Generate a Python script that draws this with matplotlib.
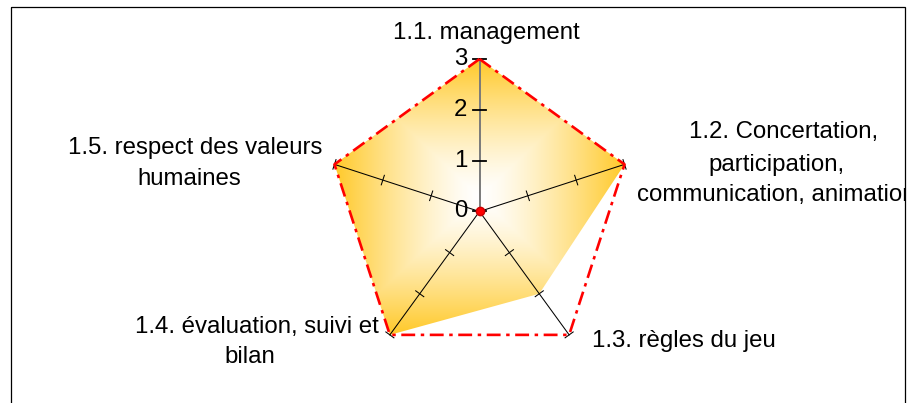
import numpy as np
import matplotlib
matplotlib.use("Agg")
import matplotlib.pyplot as plt
from matplotlib.patches import Polygon, Rectangle
from matplotlib.transforms import Affine2D, Bbox

# ---------------- data ----------------
categories = ["1.1. management",
              "1.2. Concertation,\nparticipation,\ncommunication, animation",
              "1.3. règles du jeu",
              "1.4. évaluation, suivi et\nbilan",
              "1.5. respect des valeurs\nhumaines"]
actual = [3, 3, 2, 3, 3]
target = [3, 3, 3, 3, 3]
tick_values = [0, 1, 2, 3]
tick_labels = ["0", "1", "2", "3"]
vmax = 3

# ---------------- layout / style ----------------
W, H, DPI = 919, 403, 100
plt.rcParams['font.family'] = ['Liberation Sans', 'DejaVu Sans']
plt.rcParams['lines.scale_dashes'] = False
FS = 17.3
fig = plt.figure(figsize=(W / DPI, H / DPI), dpi=DPI)
fig.patch.set_facecolor('white')
ax = fig.add_axes([0, 0, 1, 1])
ax.axis('off')

CX, CY, R = 479.5, 211.5, 152.5          # pixel centre and radius of value vmax
S = R / vmax                              # pixels per unit
px = Affine2D().scale(1, -1).translate(0, H)   # image pixels -> display

n = len(categories)
ang = np.deg2rad(90 - 360.0 / n * np.arange(n))
ux, uy = np.cos(ang), np.sin(ang)

# gradient fill of the actual series
a = np.asarray(actual, float)
xs, ys = a * ux, a * uy
xmin, xmax, ymin, ymax = xs.min(), xs.max(), ys.min(), ys.max()
gx = np.linspace(xmin, xmax, 500)
gy = np.linspace(ymin, ymax, 500)
GX, GY = np.meshgrid(gx, gy)
cx0, cy0 = (xmin + xmax) / 2, (ymin + ymax) / 2
t = np.maximum(np.abs(GX - cx0) / ((xmax - xmin) / 2),
               np.abs(GY - cy0) / ((ymax - ymin) / 2))
t = np.clip(t, 0, 1) ** 1.35
t = t[..., None]
white = np.array([1.0, 1.0, 1.0])
gold = np.array([255, 201, 40]) / 255.0
img = white * (1 - t) + gold * t
im = ax.imshow(img, extent=(xmin, xmax, ymin, ymax), origin='lower',
               interpolation='bilinear', aspect='auto', zorder=1)
poly = Polygon(np.c_[xs, ys], closed=True, facecolor='none', edgecolor='none')
ax.add_patch(poly)
im.set_clip_path(poly)

ax.set_xlim(-CX / S, (W - CX) / S)
ax.set_ylim(-(H - CY) / S, CY / S)

# spokes and ticks
hl = 5.0 / S
for i in range(n):
    if i == 0:
        ax.plot([0, vmax * ux[i]], [0, vmax * uy[i]], color='#7a7a7a', lw=1.4, zorder=3)
        for v in tick_values:
            ax.plot([-6.5 / S, 6.5 / S], [v, v], color='black', lw=1.3, zorder=4)
    else:
        ax.plot([0, vmax * ux[i]], [0, vmax * uy[i]], color='black', lw=0.75, zorder=3)
        px_, py_ = -uy[i], ux[i]
        for v in tick_values[1:]:
            bx, by = v * ux[i], v * uy[i]
            ax.plot([bx - hl * px_, bx + hl * px_], [by - hl * py_, by + hl * py_],
                    color='black', lw=0.75, zorder=4)

# target series (red dash-dot)
tg = np.asarray(target, float)
tx = np.r_[tg * ux, tg[0] * ux[0]]
ty = np.r_[tg * uy, tg[0] * uy[0]]
ax.plot(tx, ty, color='#ff0000', lw=1.9, linestyle=(0, (10, 4, 2.5, 4)),
        solid_capstyle='butt', dash_capstyle='butt', zorder=5)

# centre marker
ax.plot([0], [0], marker='o', ms=6, color='#ff0000', mec='#cc0000', zorder=6)

# value tick labels
for v, lab in zip(tick_values, tick_labels):
    ax.text(-12.5 / S, v, lab, ha='right', va='center', fontsize=FS, zorder=7)

# category labels (pixel positions of each line: centre x / baseline y)
label_lines = [
    [(486.5, 39.0, 'center')],
    [(784.0, 138.0, 'center'), (776.5, 171.5, 'center'), (776.5, 201.0, 'center')],
    [(592.0, 347.5, 'left')],
    [(256.7, 333.3, 'center'), (250.0, 363.3, 'center')],
    [(195.0, 154.3, 'center'), (189.0, 185.0, 'center')],
]
frame_l, frame_t, frame_r = 10.5, 7.0, 905.0
clipbox = Bbox([[frame_l, -50], [frame_r, H - frame_t]])
for cat, pos in zip(categories, label_lines):
    for line, (x, y, ha) in zip(cat.split("\n"), pos):
        tt = ax.text(x, y, line, transform=px, ha=ha, va='baseline', fontsize=FS, zorder=7)
        tt.set_clip_on(True)
        tt.set_clip_box(clipbox)

# outer frame
fig.add_artist(Rectangle((frame_l, frame_t), frame_r - frame_l, H + 20,
                         transform=px, fill=False, edgecolor='black', lw=0.9))

fig.savefig("out.png", dpi=DPI)
